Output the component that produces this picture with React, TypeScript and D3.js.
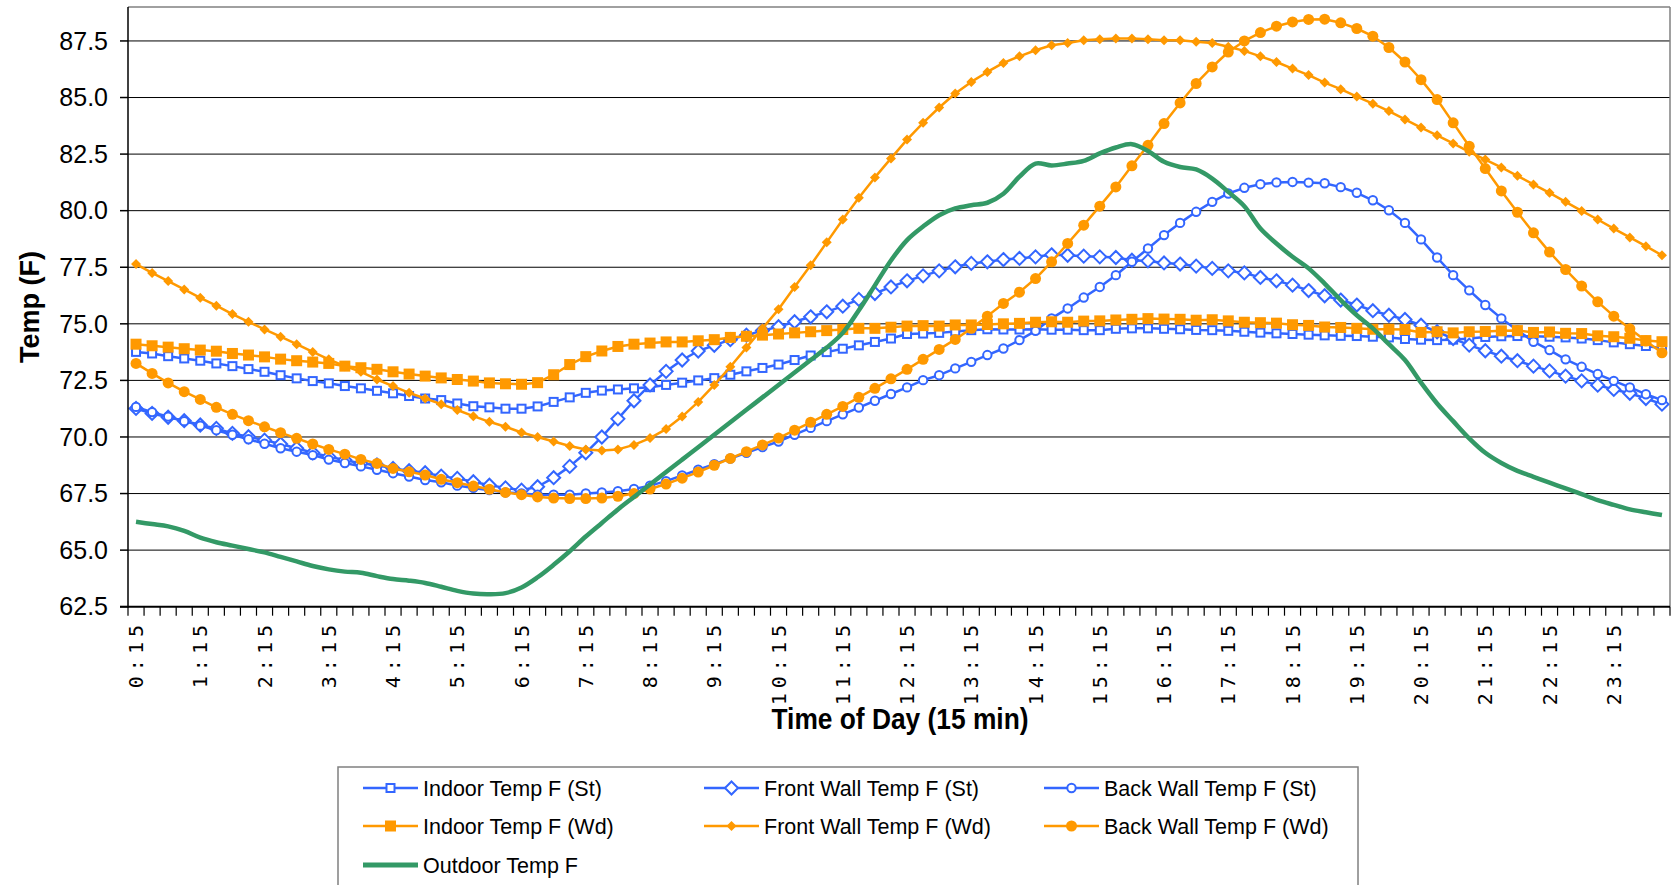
import React from 'react';
import * as d3 from 'd3';

// 96 quarter-hour readings, 0:15 .. 24:00
const times: string[] = d3.range(96).map((i) => {
  const m = (i + 1) * 15;
  return `${Math.floor(m / 60) % 24}:${String(m % 60).padStart(2, '0')}`;
});

const yTicks = [62.5, 65.0, 67.5, 70.0, 72.5, 75.0, 77.5, 80.0, 82.5, 85.0, 87.5];

const indoorSt = [
  73.76, 73.69, 73.57, 73.47, 73.37, 73.25, 73.13, 73.0, 72.88, 72.73, 72.59, 72.47, 72.37, 72.25, 72.15, 72.04,
  71.93, 71.81, 71.7, 71.63, 71.48, 71.36, 71.31, 71.25, 71.25, 71.35, 71.55, 71.75, 71.95, 72.05, 72.1, 72.15,
  72.2, 72.3, 72.4, 72.5, 72.6, 72.75, 72.9, 73.05, 73.2, 73.4, 73.6, 73.75, 73.9, 74.05, 74.2, 74.35,
  74.55, 74.57, 74.6, 74.66, 74.72, 74.76, 74.75, 74.75, 74.76, 74.74, 74.74, 74.72, 74.72, 74.78, 74.8, 74.8,
  74.78, 74.76, 74.73, 74.72, 74.69, 74.65, 74.61, 74.58, 74.55, 74.52, 74.49, 74.47, 74.46, 74.43, 74.4, 74.33,
  74.3, 74.28, 74.3, 74.35, 74.42, 74.45, 74.46, 74.45, 74.43, 74.4, 74.35, 74.28, 74.18, 74.1, 74.02, 73.92,
];
const frontSt = [
  71.26, 71.04, 70.87, 70.72, 70.53, 70.38, 70.16, 70.01, 69.86, 69.69, 69.5, 69.3, 69.13, 68.98, 68.83, 68.76,
  68.61, 68.51, 68.42, 68.27, 68.17, 68.02, 67.87, 67.75, 67.65, 67.8, 68.2, 68.7, 69.3, 70.0, 70.8, 71.6,
  72.3, 72.9, 73.4, 73.8, 74.05, 74.3, 74.5, 74.7, 74.87, 75.09, 75.31, 75.53, 75.78, 76.08, 76.34, 76.63,
  76.9, 77.12, 77.34, 77.52, 77.67, 77.74, 77.84, 77.89, 77.96, 78.05, 78.03, 77.99, 77.96, 77.93, 77.81, 77.78,
  77.69, 77.64, 77.55, 77.45, 77.34, 77.25, 77.05, 76.9, 76.71, 76.47, 76.24, 76.05, 75.83, 75.58, 75.38, 75.19,
  74.94, 74.65, 74.35, 74.06, 73.81, 73.57, 73.37, 73.13, 72.92, 72.69, 72.48, 72.29, 72.1, 71.93, 71.7, 71.45,
];
const backSt = [
  71.33, 71.1, 70.9, 70.7, 70.5, 70.3, 70.1, 69.9, 69.7, 69.5, 69.35, 69.2, 69.0, 68.85, 68.7, 68.55,
  68.4, 68.25, 68.1, 68.0, 67.85, 67.75, 67.65, 67.55, 67.5, 67.45, 67.45, 67.45, 67.5, 67.55, 67.6, 67.7,
  67.85, 68.05, 68.3, 68.55, 68.8, 69.05, 69.3, 69.55, 69.8, 70.1, 70.4, 70.7, 71.0, 71.3, 71.6, 71.9,
  72.19, 72.51, 72.73, 73.03, 73.32, 73.62, 73.91, 74.28, 74.69, 75.24, 75.68, 76.16, 76.63, 77.15, 77.74, 78.33,
  78.92, 79.46, 79.95, 80.39, 80.76, 81.01, 81.17, 81.25, 81.27, 81.24, 81.21, 81.04, 80.79, 80.46, 80.02, 79.46,
  78.73, 77.93, 77.15, 76.48, 75.83, 75.24, 74.72, 74.21, 73.84, 73.43, 73.1, 72.78, 72.48, 72.19, 71.89, 71.63,
];
const indoorWd = [
  74.1, 74.03, 73.97, 73.9, 73.84, 73.79, 73.69, 73.62, 73.54, 73.44, 73.37, 73.31, 73.25, 73.13, 73.06, 72.99,
  72.88, 72.78, 72.69, 72.61, 72.54, 72.47, 72.39, 72.35, 72.33, 72.4, 72.75, 73.2, 73.55, 73.8, 74.0, 74.1,
  74.15, 74.2, 74.2, 74.25, 74.3, 74.4, 74.45, 74.5, 74.55, 74.6, 74.65, 74.7, 74.75, 74.8, 74.8, 74.85,
  74.9, 74.92, 74.9, 74.95, 74.95, 74.97, 75.0, 75.02, 75.07, 75.09, 75.07, 75.12, 75.13, 75.17, 75.2, 75.23,
  75.21, 75.2, 75.16, 75.18, 75.13, 75.07, 75.05, 75.03, 74.96, 74.93, 74.86, 74.84, 74.8, 74.76, 74.76, 74.75,
  74.62, 74.65, 74.6, 74.65, 74.66, 74.69, 74.7, 74.62, 74.64, 74.58, 74.57, 74.47, 74.43, 74.36, 74.26, 74.21,
];
const frontWd = [
  77.64, 77.25, 76.89, 76.52, 76.15, 75.8, 75.43, 75.09, 74.75, 74.43, 74.1, 73.76, 73.43, 73.13, 72.88, 72.54,
  72.25, 71.95, 71.7, 71.45, 71.19, 70.92, 70.67, 70.45, 70.2, 70.0, 69.8, 69.6, 69.45, 69.4, 69.45, 69.65,
  69.95, 70.35, 70.9, 71.55, 72.3, 73.1, 73.95, 74.8, 75.64, 76.63, 77.59, 78.6, 79.61, 80.57, 81.47, 82.31,
  83.14, 83.88, 84.56, 85.18, 85.69, 86.13, 86.53, 86.82, 87.09, 87.31, 87.41, 87.53, 87.58, 87.61, 87.61, 87.58,
  87.53, 87.53, 87.46, 87.41, 87.24, 87.06, 86.82, 86.57, 86.28, 85.99, 85.66, 85.37, 85.04, 84.73, 84.4, 84.03,
  83.67, 83.33, 82.97, 82.6, 82.26, 81.91, 81.54, 81.16, 80.79, 80.39, 79.99, 79.61, 79.21, 78.82, 78.43, 78.03,
];
const backWd = [
  73.25, 72.81, 72.39, 72.0, 71.66, 71.31, 71.0, 70.72, 70.45, 70.19, 69.94, 69.69, 69.45, 69.24, 69.01, 68.83,
  68.61, 68.46, 68.32, 68.13, 67.98, 67.83, 67.69, 67.55, 67.45, 67.35, 67.3, 67.28, 67.28, 67.3, 67.38, 67.5,
  67.7, 67.92, 68.18, 68.45, 68.75, 69.05, 69.35, 69.65, 69.95, 70.3, 70.65, 71.0, 71.35, 71.75, 72.15, 72.57,
  72.99, 73.43, 73.87, 74.31, 74.8, 75.34, 75.9, 76.4, 77.0, 77.74, 78.55, 79.36, 80.2, 81.05, 81.98, 82.89,
  83.85, 84.76, 85.62, 86.35, 87.01, 87.5, 87.87, 88.15, 88.34, 88.45, 88.46, 88.3, 88.05, 87.71, 87.21, 86.57,
  85.79, 84.91, 83.88, 82.85, 81.86, 80.87, 79.93, 79.02, 78.17, 77.4, 76.67, 75.97, 75.34, 74.78, 74.24, 73.72,
];
const outdoor = [
  66.25, 66.15, 66.05, 65.85, 65.55, 65.35, 65.2, 65.05, 64.9, 64.7, 64.5, 64.3, 64.15, 64.05, 64.0, 63.85,
  63.72, 63.65, 63.55, 63.38, 63.2, 63.08, 63.05, 63.1, 63.35, 63.8, 64.35, 64.95, 65.6, 66.2, 66.8, 67.35,
  67.9, 68.45, 69.0, 69.55, 70.1, 70.65, 71.2, 71.75, 72.3, 72.85, 73.4, 73.95, 74.6, 75.6, 76.7, 77.8,
  78.7, 79.3, 79.8, 80.1, 80.24, 80.35, 80.75, 81.5, 82.08, 82.0, 82.08, 82.2, 82.53, 82.79, 82.94, 82.64,
  82.16, 81.93, 81.82, 81.42, 80.83, 80.2, 79.21, 78.55, 77.96, 77.45, 76.78, 76.05, 75.38, 74.8, 74.1, 73.4,
  72.4, 71.48, 70.7, 69.94, 69.3, 68.85, 68.5, 68.24, 67.98, 67.73, 67.47, 67.21, 67.0, 66.8, 66.67, 66.55,
];

const BLUE = '#3366ff';
const ORANGE = '#ff9900';
const GREEN = '#339966';

type Marker = 'openSquare' | 'openDiamond' | 'openCircle' | 'square' | 'diamond' | 'circle' | 'none';

const series: { name: string; values: number[]; color: string; marker: Marker }[] = [
  { name: 'Indoor Temp F (St)', values: indoorSt, color: BLUE, marker: 'openSquare' },
  { name: 'Front Wall Temp F (St)', values: frontSt, color: BLUE, marker: 'openDiamond' },
  { name: 'Back Wall Temp F (St)', values: backSt, color: BLUE, marker: 'openCircle' },
  { name: 'Indoor Temp F (Wd)', values: indoorWd, color: ORANGE, marker: 'square' },
  { name: 'Front Wall Temp F (Wd)', values: frontWd, color: ORANGE, marker: 'diamond' },
  { name: 'Back Wall Temp F (Wd)', values: backWd, color: ORANGE, marker: 'circle' },
  { name: 'Outdoor Temp F', values: outdoor, color: GREEN, marker: 'none' },
];

const W = 1674;
const H = 885;
const left = 128;
const right = 1670;
const top = 7;
const bottom = 606.7;

const x = d3.scaleBand<string>().domain(times).range([left, right]);
const cx = (i: number) => (x(times[i]) as number) + x.bandwidth() / 2;
const y = d3.scaleLinear().domain([62.5, 89]).range([bottom, top]);

const MarkerShape = ({ kind, px, py, color }: { kind: Marker; px: number; py: number; color: string }) => {
  switch (kind) {
    case 'openSquare':
      return <rect x={px - 4} y={py - 4} width={8} height={8} fill="#fff" stroke={color} strokeWidth={2} />;
    case 'square':
      return <rect x={px - 5.5} y={py - 5.5} width={11} height={11} fill={color} />;
    case 'openDiamond':
      return (
        <path d={`M${px},${py - 6.5}L${px + 6.5},${py}L${px},${py + 6.5}L${px - 6.5},${py}Z`} fill="#fff" stroke={color} strokeWidth={2} />
      );
    case 'diamond':
      return <path d={`M${px},${py - 5}L${px + 5},${py}L${px},${py + 5}L${px - 5},${py}Z`} fill={color} />;
    case 'openCircle':
      return <circle cx={px} cy={py} r={4.2} fill="#fff" stroke={color} strokeWidth={2} />;
    case 'circle':
      return <circle cx={px} cy={py} r={5.5} fill={color} />;
    default:
      return null;
  }
};

const legendCols = [363, 704, 1044];
const legendRows = [788, 826, 865];

export default function App() {
  const straight = d3.line<number>().x((_, i) => cx(i)).y((d) => y(d));
  const smooth = d3
    .line<number>()
    .x((_, i) => cx(i))
    .y((d) => y(d))
    .curve(d3.curveCatmullRom.alpha(0.5));

  return (
    <svg width={W} height={H} style={{ position: 'absolute', left: 0, top: 0, background: '#fff' }} fontFamily="'Liberation Sans', Arial, sans-serif">
      {/* grid */}
      {yTicks.slice(1).map((t) => (
        <line key={t} x1={left} x2={right} y1={y(t)} y2={y(t)} stroke="#000" strokeWidth={1} />
      ))}
      <line x1={left} x2={right} y1={top} y2={top} stroke="#808080" strokeWidth={1.5} />
      <line x1={right} x2={right} y1={top} y2={bottom} stroke="#808080" strokeWidth={1.5} />

      {/* series */}
      {series.map((s) => (
        <g key={s.name}>
          <path
            d={(s.marker === 'none' ? smooth : straight)(s.values) as string}
            fill="none"
            stroke={s.color}
            strokeWidth={s.marker === 'none' ? 4.5 : 2.5}
            strokeLinejoin="round"
          />
          {s.values.map((v, i) => (
            <MarkerShape key={i} kind={s.marker} px={cx(i)} py={y(v)} color={s.color} />
          ))}
        </g>
      ))}

      {/* axes */}
      <line x1={left} x2={left} y1={top} y2={bottom + 1} stroke="#000" strokeWidth={1.5} />
      <line x1={left - 8} x2={right} y1={bottom} y2={bottom} stroke="#000" strokeWidth={2} />
      {yTicks.map((t) => (
        <g key={t}>
          <line x1={left - 8} x2={left} y1={y(t)} y2={y(t)} stroke="#000" strokeWidth={1.5} />
          <text x={108} y={y(t)} dy="0.35em" textAnchor="end" fontSize={25} fill="#000">
            {t.toFixed(1)}
          </text>
        </g>
      ))}
      {d3.range(97).map((i) => (
        <line key={i} x1={left + i * x.bandwidth()} x2={left + i * x.bandwidth()} y1={bottom} y2={bottom + 9} stroke="#000" strokeWidth={1.2} />
      ))}
      {times.map((t, i) =>
        i % 4 === 0 ? (
          <text
            key={t}
            transform={`translate(${cx(i)},${620}) rotate(-90)`}
            dy="0.36em"
            textAnchor="end"
            fontFamily="'DejaVu Sans Mono', monospace"
            fontSize={20}
            letterSpacing={5}
            fill="#000"
          >
            {t}
          </text>
        ) : null
      )}

      {/* titles */}
      <text transform="translate(30,307) rotate(-90)" dy="0.35em" textAnchor="middle" fontWeight="bold" fontSize={27}>
        Temp (F)
      </text>
      <text x={900} y={729} textAnchor="middle" fontWeight="bold" fontSize={29} textLength={257} lengthAdjust="spacingAndGlyphs">
        Time of Day (15 min)
      </text>

      {/* legend */}
      <rect x={338} y={767} width={1020} height={140} fill="#fff" stroke="#808080" strokeWidth={1.5} />
      {series.map((s, k) => {
        const col = k === 6 ? 0 : k % 3;
        const row = k === 6 ? 2 : Math.floor(k / 3);
        const lx = legendCols[col];
        const ly = legendRows[row];
        return (
          <g key={s.name}>
            <line x1={lx} x2={lx + 55} y1={ly} y2={ly} stroke={s.color} strokeWidth={s.marker === 'none' ? 5 : 2.5} />
            <MarkerShape kind={s.marker} px={lx + 27.5} py={ly} color={s.color} />
            <text x={lx + 60} y={ly} dy="0.35em" fontSize={21.5} fill="#000">
              {s.name}
            </text>
          </g>
        );
      })}
    </svg>
  );
}
